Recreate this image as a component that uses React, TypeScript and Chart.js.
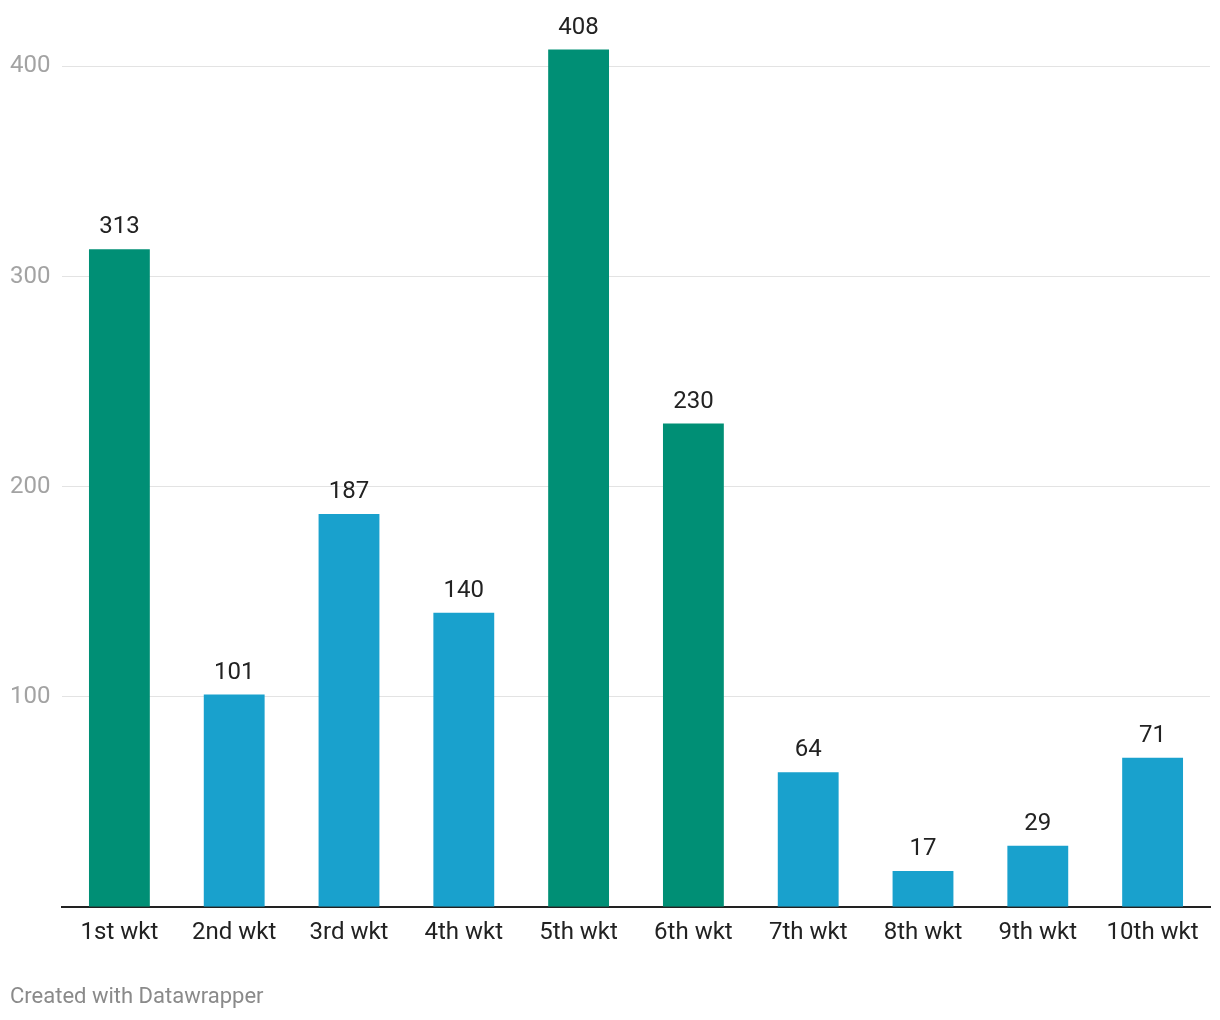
import React, { useEffect, useRef } from "react";
import { Chart, registerables } from "chart.js";

Chart.register(...registerables);

const categories = ["1st wkt", "2nd wkt", "3rd wkt", "4th wkt", "5th wkt", "6th wkt", "7th wkt", "8th wkt", "9th wkt", "10th wkt"];
const values = [313, 101, 187, 140, 408, 230, 64, 17, 29, 71];
const highlighted = [true, false, false, false, true, true, false, false, false, false];
const yTicks = [100, 200, 300, 400];
const footer = "Created with Datawrapper";

const GREEN = "#008f75";
const BLUE = "#19a1cd";

const valueLabels = {
  id: "valueLabels",
  afterDatasetsDraw(chart: any) {
    const ctx = chart.ctx;
    const meta = chart.getDatasetMeta(0);
    ctx.save();
    ctx.font = "24px Roboto";
    ctx.fillStyle = "#222222";
    ctx.textAlign = "center";
    ctx.textBaseline = "alphabetic";
    meta.data.forEach((bar: any, i: number) => {
      ctx.fillText(String(values[i]), bar.x, bar.y - 16);
    });
    ctx.restore();
  },
};

export default function App() {
  const ref = useRef<HTMLCanvasElement | null>(null);
  useEffect(() => {
    const canvas = ref.current!;
    const chart = new Chart(canvas, {
      type: "bar",
      data: {
        labels: categories,
        datasets: [
          {
            data: values,
            backgroundColor: highlighted.map((h) => (h ? GREEN : BLUE)),
            barPercentage: 0.53,
            categoryPercentage: 1,
          },
        ],
      },
      options: {
        responsive: false,
        animation: false,
        layout: { padding: { left: 10, right: 10, top: 22, bottom: 0 } },
        plugins: {
          legend: { display: false },
          tooltip: { enabled: false },
          title: {
            display: true,
            text: footer,
            position: "bottom",
            align: "start",
            color: "#8a8a8a",
            font: { family: "Roboto", size: 22, weight: "normal" },
            padding: { top: 25, bottom: 9 },
          },
        },
        scales: {
          x: {
            grid: { display: false, drawTicks: false },
            border: { display: true, color: "#222222", width: 2 },
            ticks: {
              color: "#222222",
              font: { family: "Roboto", size: 24 },
              padding: 12,
              maxRotation: 0,
              autoSkip: false,
            },
          },
          y: {
            min: 0,
            max: 420,
            afterBuildTicks: (scale: any) => {
              scale.ticks = yTicks.map((v) => ({ value: v }));
            },
            afterFit: (scale: any) => {
              scale.width = 52;
            },
            grid: { color: "#e3e3e3", lineWidth: 1, drawTicks: false },
            border: { display: false },
            ticks: {
              color: "#a3a3a3",
              font: { family: "Roboto", size: 24 },
              crossAlign: "far",
              padding: 10,
            },
          },
        },
      },
      plugins: [valueLabels],
    });
    return () => chart.destroy();
  }, []);
  return (
    <div style={{ position: "absolute", left: 0, top: 0, width: 1220, height: 1020, background: "#fff" }}>
      <canvas ref={ref} width={1220} height={1020} style={{ display: "block" }} />
    </div>
  );
}
